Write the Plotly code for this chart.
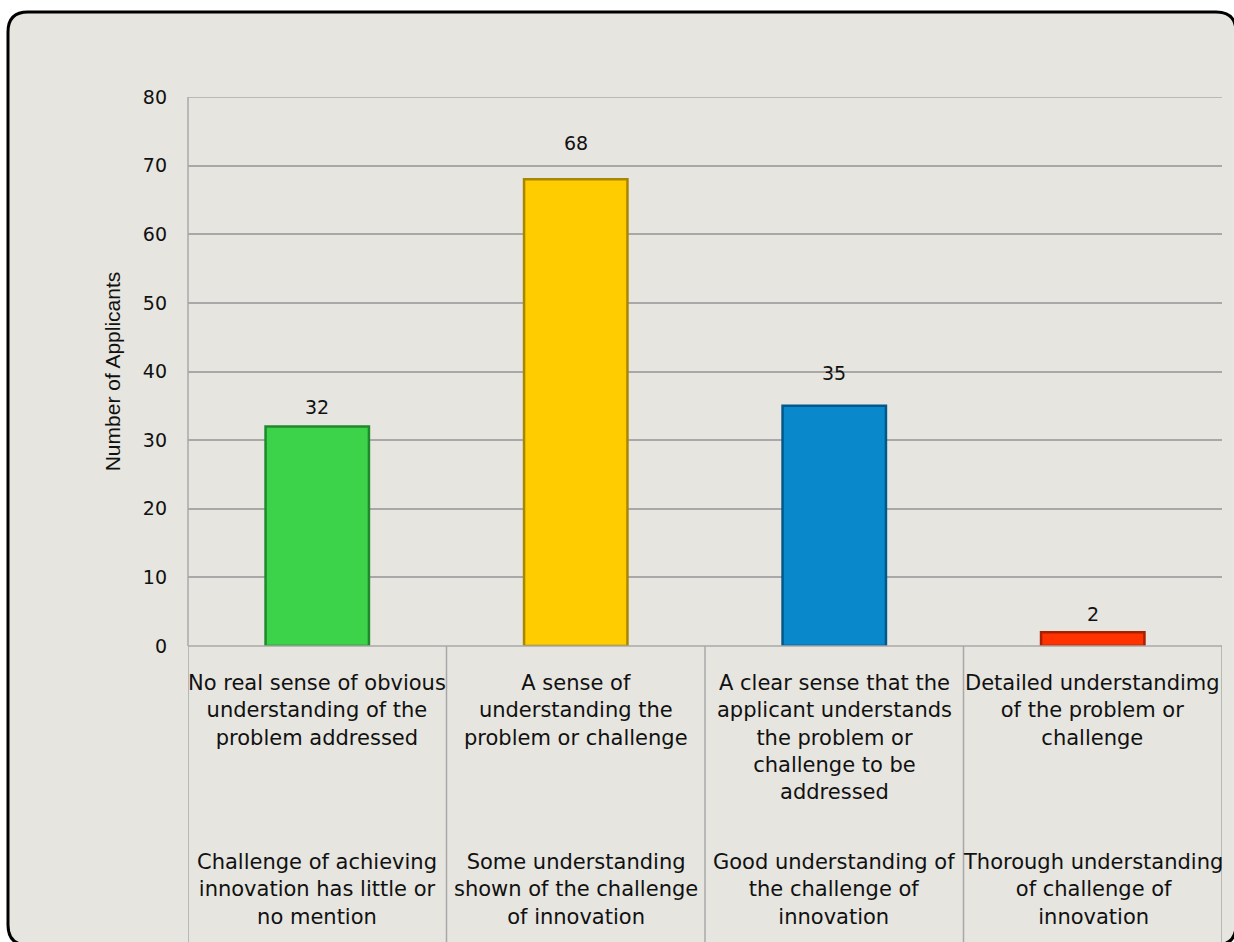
import plotly.graph_objects as go

# Applicant counts per assessment level
values = [32, 68, 35, 2]
problem_labels = [
    "No real sense of obvious<br>understanding of the<br>problem addressed",
    "A sense of<br>understanding the<br>problem or challenge",
    "A clear sense that the<br>applicant understands<br>the problem or<br>challenge to be<br>addressed",
    "Detailed understandimg<br>of the problem or<br>challenge",
]
innovation_labels = [
    "Challenge of achieving<br>innovation has little or<br>no mention",
    "Some understanding<br>shown of the challenge<br>of innovation",
    "Good understanding of<br>the challenge of<br>innovation",
    "Thorough understanding<br>of challenge of<br>innovation",
]
bar_colors = ["#3cd24a", "#ffcc00", "#0a88cc", "#ff3300"]
edge_colors = ["#1f8a2a", "#a88600", "#00598a", "#a82000"]
label_lift = [6, 23, 20, 5]  # pixel offset of each value label above its bar
y_ticks = [0, 10, 20, 30, 40, 50, 60, 70, 80]

W, H = 1234, 942
L, R, T, B = 188, 1222, 97, 646  # plot area in pixels
pw, ph = R - L, B - T


def px_x(x):
    return (x - L) / pw


def px_y(y):
    return (B - y) / ph


x = list(range(len(values)))

fig = go.Figure(
    go.Bar(
        x=x,
        y=values,
        width=0.4,
        marker=dict(color=bar_colors, line=dict(color=edge_colors, width=2.5)),
        hoverinfo="x+y",
    )
)

shapes = []
# Rounded chart frame
fx0, fy0, fx1, fy1, r = 8, 12, 1236, 945, 20
path = (
    f"M {px_x(fx0 + r)},{px_y(fy0)} L {px_x(fx1 - r)},{px_y(fy0)} "
    f"Q {px_x(fx1)},{px_y(fy0)} {px_x(fx1)},{px_y(fy0 + r)} "
    f"L {px_x(fx1)},{px_y(fy1 - r)} Q {px_x(fx1)},{px_y(fy1)} {px_x(fx1 - r)},{px_y(fy1)} "
    f"L {px_x(fx0 + r)},{px_y(fy1)} Q {px_x(fx0)},{px_y(fy1)} {px_x(fx0)},{px_y(fy1 - r)} "
    f"L {px_x(fx0)},{px_y(fy0 + r)} Q {px_x(fx0)},{px_y(fy0)} {px_x(fx0 + r)},{px_y(fy0)} Z"
)
shapes.append(dict(type="path", path=path, xref="paper", yref="paper",
                   fillcolor="#e6e5df", line=dict(color="#000000", width=3), layer="below"))

grid_col = "#a8a8a8"
# Category table dividers below the axis
for b in [-0.5, 0.5, 1.5, 2.5, 3.5]:
    shapes.append(dict(type="line", xref="x", yref="paper", x0=b, x1=b,
                       y0=0, y1=px_y(950), line=dict(color=grid_col, width=1.5)))
shapes.append(dict(type="line", xref="paper", yref="paper", x0=0, x1=1, y0=0, y1=0,
                   line=dict(color=grid_col, width=1.5)))
# top gridline and left axis line
shapes.append(dict(type="line", xref="paper", yref="y", x0=0, x1=1, y0=y_ticks[-1], y1=y_ticks[-1],
                   line=dict(color=grid_col, width=1.5), layer="below"))
shapes.append(dict(type="line", xref="paper", yref="paper", x0=0, x1=0, y0=0, y1=1,
                   line=dict(color=grid_col, width=1.5)))

annotations = []
lab_font = dict(family="DejaVu Sans", size=21, color="#111111")
for i in x:
    annotations.append(dict(x=i, y=px_y(669), xref="x", yref="paper", text=problem_labels[i],
                            showarrow=False, yanchor="top", xanchor="center", align="center",
                            font=lab_font))
    annotations.append(dict(x=i, y=px_y(848), xref="x", yref="paper", text=innovation_labels[i],
                            showarrow=False, yanchor="top", xanchor="center", align="center",
                            font=lab_font))
    # value label above each bar
    annotations.append(dict(x=i, y=values[i], xref="x", yref="y", text=str(values[i]),
                            showarrow=False, yanchor="bottom", xanchor="center",
                            yshift=label_lift[i],
                            font=dict(family="DejaVu Sans", size=19, color="#111111")))

fig.update_layout(
    width=W,
    height=H,
    margin=dict(l=L, r=W - R, t=T, b=H - B, pad=0),
    paper_bgcolor="#ffffff",
    plot_bgcolor="rgba(0,0,0,0)",
    showlegend=False,
    shapes=shapes,
    annotations=annotations,
    xaxis=dict(range=[-0.5, 3.5], showticklabels=False, showgrid=False, zeroline=False,
               ticks="", fixedrange=True),
    yaxis=dict(
        range=[0, 80],
        tickvals=y_ticks,
        ticks="",
        ticklabelstandoff=20,
        tickfont=dict(family="DejaVu Sans", size=19, color="#111111"),
        showgrid=True,
        gridcolor=grid_col,
        gridwidth=1.5,
        zeroline=False,
        fixedrange=True,
        title=dict(text="Number of Applicants", standoff=16,
                   font=dict(family="Liberation Sans", size=21, color="#111111")),
    ),
)

fig.write_html("out.html")
